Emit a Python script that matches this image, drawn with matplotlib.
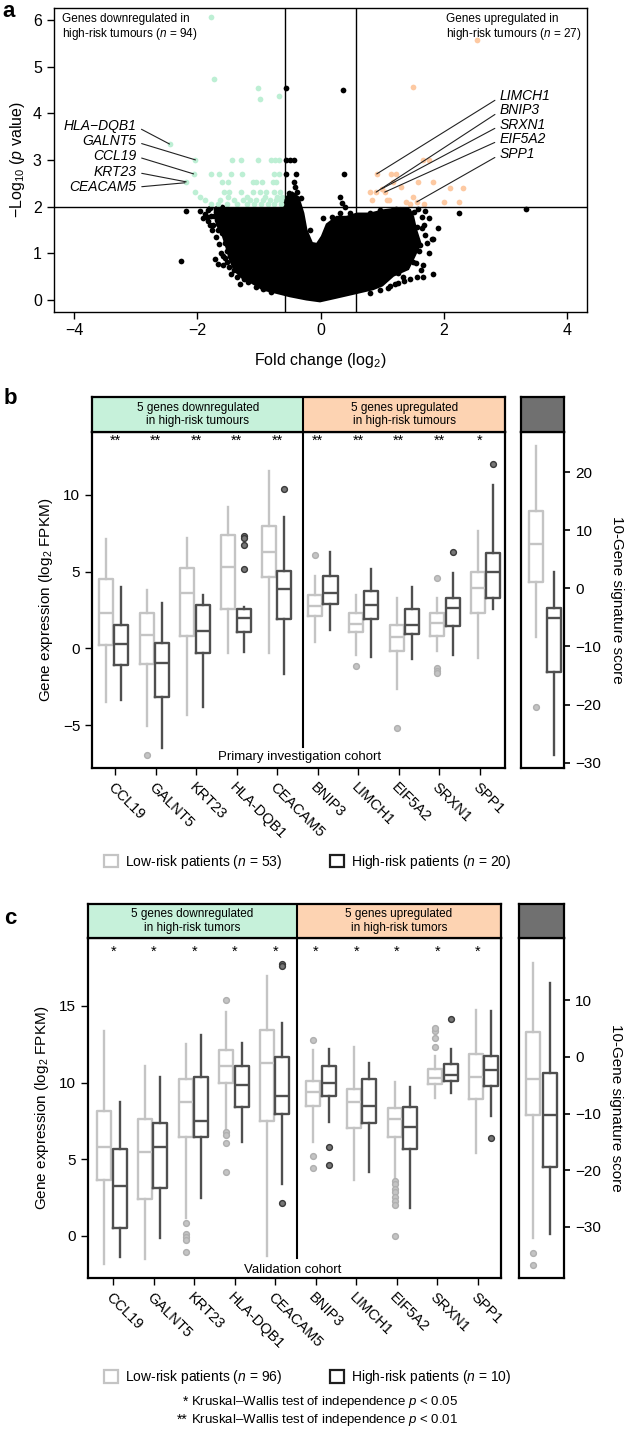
import numpy as np
import matplotlib
matplotlib.use('Agg')
import matplotlib.pyplot as plt
from matplotlib.patches import Patch

plt.rcParams['font.family'] = ['Liberation Sans', 'DejaVu Sans']
plt.rcParams['mathtext.fontset'] = 'custom'
plt.rcParams['mathtext.rm'] = 'Liberation Sans'
plt.rcParams['mathtext.it'] = 'Liberation Sans:italic'
plt.rcParams['axes.linewidth'] = 1.3

# ---------------- panel a: volcano ----------------
green_x = [-1.78, -1.73, -1.01, -0.98, -0.67, -2.45,
           -2.03, -1.44, -1.29, -1.01, -0.80, -0.74, -0.68,
           -2.06, -1.77, -1.65, -1.45, -1.27, -0.75, -0.68,
           -2.18, -1.60, -1.50, -1.10, -1.04, -0.95, -0.77, -0.72,
           -2.04, -1.57, -1.49, -1.29, -1.10, -0.98, -0.88, -0.75, -0.66,
           -1.95, -1.50, -1.20, -0.90, -0.70, -0.62,
           -1.87, -1.63, -1.41, -1.26, -1.15, -1.04, -0.93, -0.82, -0.72, -0.64,
           -1.78, -1.67, -1.51, -1.35, -1.19, -1.08, -0.97, -0.86, -0.75, -0.65]
green_y = [6.06, 4.73, 4.54, 4.31, 4.36, 3.34,
           3.0, 3.0, 3.0, 3.0, 3.0, 3.0, 3.0,
           2.7, 2.7, 2.7, 2.7, 2.7, 2.7, 2.7,
           2.52, 2.52, 2.52, 2.52, 2.52, 2.52, 2.52, 2.52,
           2.31, 2.31, 2.31, 2.31, 2.31, 2.31, 2.31, 2.31, 2.31,
           2.21, 2.21, 2.21, 2.21, 2.21, 2.21,
           2.14, 2.14, 2.14, 2.14, 2.14, 2.14, 2.14, 2.14, 2.14, 2.14,
           2.05, 2.05, 2.05, 2.05, 2.05, 2.05, 2.05, 2.05, 2.05, 2.05]

orange_x = [2.53, 1.50, 1.66, 1.75, 0.91, 1.14, 1.23, 1.17, 1.58, 1.82, 1.31, 2.10, 2.31,
            0.80, 0.90, 1.04, 1.50, 0.83, 1.07, 1.11, 1.39, 1.56, 2.00, 2.25, 0.99, 1.45, 1.68]
orange_y = [5.56, 4.56, 3.0, 3.0, 2.7, 2.7, 2.7, 2.52, 2.52, 2.52, 2.42, 2.39, 2.39,
            2.31, 2.31, 2.31, 2.21, 2.14, 2.14, 2.14, 2.10, 2.10, 2.10, 2.10, 2.38, 2.05, 2.05]

# outline of the dense core of non-significant genes
cloud_x = [-1.72, -1.68, -1.60, -1.53, -1.47, -1.40, -1.28, -1.12, -0.93, -0.71, -0.50, -0.23,
           -0.01, 0.26, 0.59, 0.85, 1.00, 1.18, 1.42, 1.52, 1.62, 1.55, 1.50, 1.45, 1.30, 1.02,
           0.80, 0.59, 0.42, 0.26, 0.10, 0.02, -0.06, -0.14, -0.23, -0.28, -0.36, -0.46, -0.56,
           -0.63]
cloud_y = [1.95, 1.60, 1.43, 1.14, 0.86, 0.64, 0.48, 0.37, 0.22, 0.15, 0.08, 0.01,
           -0.03, 0.05, 0.15, 0.23, 0.31, 0.52, 0.66, 0.93, 1.21, 1.50, 1.79, 1.93, 1.97, 1.92,
           1.85, 1.85, 1.78, 1.78, 1.62, 1.36, 1.20, 1.22, 1.50, 1.86, 2.20, 2.30, 2.20,
           1.97]

black_x = [-0.56, 0.37, -0.56, -0.49, -0.43, -0.56, -0.40, 0.38, -0.43, 0.31, 0.40, 0.35,
           3.33, 2.24, -2.19, -2.27, 1.83, 1.83,
           -1.90, -1.85, -1.77, -1.73, -1.68, -1.63, -1.58, -1.51, -1.80, -1.74, -1.66, -1.60,
           -1.55, -1.51, -1.47, -1.58, -1.59, -1.48, -1.41, -1.25, -1.17, -1.71, -1.52, -0.93,
           -1.82, -1.68, -1.60,
           -1.95, -1.88, -1.83, -1.76, -1.70, -1.65, -1.62, -1.55, -1.66, -1.45, -1.35, -1.30,
           -1.05, -0.80, -1.79, -1.70,
           0.04, 0.18, 0.31, 0.48, 0.69, 0.80, 0.96, 1.18, 1.23, 1.40, 1.64, 1.45, 1.56, 1.64,
           1.72, 1.61, 1.42, 1.42, 1.50, 1.66, 1.56, 1.34, 1.26, 1.12, 0.96, 1.66, 1.26,
           1.70, 1.75, 1.68, 1.70, 1.80, 1.60, 1.55, 1.62, 1.45, 1.35, 1.20, 1.10, 0.80, 1.75,
           1.90, 1.58, 1.52,
           0.04, 0.15, 0.23, 0.37, 0.42, -0.06, -0.17, -0.33, -0.44, -0.31, -0.51, -0.39, -0.41]
black_y = [4.54, 4.49, 3.0, 3.0, 3.0, 2.7, 2.7, 2.7, 2.52, 2.21, 2.0, 2.07,
           1.95, 1.86, 1.91, 0.84, 1.31, 0.56,
           1.75, 1.77, 1.80, 1.80, 1.71, 1.73, 1.75, 1.77, 1.61, 1.61, 1.50, 1.43,
           1.21, 1.04, 0.94, 0.94, 0.75, 0.70, 0.64, 0.44, 0.39, 0.88, 0.82, 0.23,
           1.93, 1.96, 1.99,
           1.90, 1.85, 1.70, 1.50, 1.35, 1.20, 1.00, 0.90, 0.78, 0.55, 0.50, 0.35,
           0.28, 0.18, 1.96, 1.88,
           1.75, 1.77, 1.86, 1.86, 1.71, 1.87, 1.93, 1.93, 1.94, 1.93, 1.77, 1.73, 1.57, 1.54,
           1.21, 1.18, 1.07, 0.93, 0.82, 0.75, 0.50, 0.50, 0.36, 0.29, 0.21, 0.50, 0.57,
           1.90, 1.75, 1.60, 1.40, 1.30, 1.05, 0.80, 0.65, 0.45, 0.40, 0.35, 0.25, 0.15, 1.00,
           1.55, 1.95, 1.88,
           1.14, 1.36, 1.50, 1.57, 1.29, 1.07, 1.50, 1.71, 2.25, 2.18, 2.30, 2.32, 2.43]

left_labels = ['HLA\u2212DQB1', 'GALNT5', 'CCL19', 'KRT23', 'CEACAM5']
left_label_y = [3.73, 3.40, 3.09, 2.75, 2.43]
left_pts = [(-2.45, 3.34), (-2.03, 3.0), (-2.06, 2.7), (-2.18, 2.53), (-2.20, 2.51)]
right_labels = ['LIMCH1', 'BNIP3', 'SRXN1', 'EIF5A2', 'SPP1']
right_label_y = [4.36, 4.06, 3.75, 3.44, 3.13]
right_pts = [(0.91, 2.70), (0.90, 2.31), (0.99, 2.38), (1.04, 2.31), (1.56, 2.10)]

# ---------------- panels b and c: box statistics (lo, q1, median, q3, hi) ----------------
genes = ['CCL19', 'GALNT5', 'KRT23', 'HLA-DQB1', 'CEACAM5',
         'BNIP3', 'LIMCH1', 'EIF5A2', 'SRXN1', 'SPP1']

b_low = [[-3.48, 0.22, 2.32, 4.50, 7.13],
         [-5.05, -1.02, 0.89, 2.32, 3.80],
         [-4.35, 0.80, 3.63, 5.22, 7.22],
         [-0.33, 2.58, 5.28, 7.39, 9.20],
         [-0.33, 4.67, 6.26, 7.98, 11.57],
         [0.43, 2.11, 2.76, 3.48, 4.74],
         [-0.46, 1.04, 1.56, 2.28, 3.48],
         [-2.65, -0.18, 0.72, 1.52, 3.30],
         [-0.18, 0.80, 1.67, 2.28, 3.26],
         [-0.65, 2.32, 3.93, 5.00, 7.67]]
b_low_out = [[], [-6.94], [], [], [], [6.09], [-1.15], [-5.18], [4.61, -1.30, -1.45, -1.63], []]
b_high = [[-3.37, -1.07, 0.28, 1.52, 3.98],
          [-6.48, -3.15, -0.98, 0.33, 2.98],
          [-3.81, -0.28, 1.13, 2.85, 3.48],
          [-0.26, 1.04, 1.98, 2.58, 2.66],
          [-1.68, 1.91, 3.85, 5.06, 8.55],
          [1.17, 2.87, 3.61, 4.74, 6.28],
          [-0.59, 1.93, 2.79, 3.76, 5.17],
          [-0.72, 0.93, 1.50, 2.58, 4.02],
          [-0.46, 1.43, 2.65, 3.30, 4.89],
          [2.56, 3.30, 4.96, 6.24, 10.63]]
b_high_out = [[], [], [], [7.35, 7.20, 6.70, 5.15], [10.41], [], [], [], [6.28], [12.0]]
b_stars = ['**'] * 9 + ['*']
b_score_low = [-8.43, 1.03, 7.62, 13.36, 24.4]
b_score_low_out = [-20.4]
b_score_high = [-28.7, -14.46, -5.16, -3.44, 2.75]

c_low = [[-1.83, 3.65, 5.83, 8.17, 13.37],
         [-1.49, 2.43, 5.50, 7.61, 11.09],
         [1.15, 6.44, 8.70, 10.24, 12.50],
         [7.00, 9.96, 11.09, 12.09, 14.59],
         [-1.28, 7.52, 11.26, 13.44, 16.96],
         [6.11, 8.48, 9.41, 10.09, 12.13],
         [3.65, 7.02, 8.76, 9.61, 12.33],
         [3.76, 6.44, 7.61, 8.37, 10.02],
         [8.98, 9.89, 10.28, 10.87, 11.76],
         [5.39, 8.92, 10.35, 11.85, 14.74]]
c_low_out = [[], [], [0.85, 0.13, -0.04, -0.24, -1.04], [15.35, 6.76, 6.59, 6.09, 4.17], [],
             [12.76, 5.22, 4.44], [], [3.61, 3.37, 3.05, 2.85, 2.52, 2.28, 2.0, 0.02],
             [12.31, 12.87, 13.33, 13.55], []]
c_high = [[-1.35, 0.54, 3.26, 5.65, 8.76],
          [-0.15, 3.11, 5.83, 7.37, 10.39],
          [2.46, 6.44, 7.50, 10.39, 13.09],
          [6.15, 8.43, 9.83, 11.09, 12.57],
          [3.37, 7.96, 9.13, 11.68, 13.87],
          [7.46, 9.13, 9.96, 11.09, 12.18],
          [4.17, 7.39, 8.48, 10.24, 11.29],
          [1.80, 5.70, 7.09, 8.43, 9.74],
          [9.35, 10.07, 10.48, 11.20, 12.18],
          [7.85, 9.78, 10.83, 11.76, 14.63]]
c_high_out = [[], [], [], [], [17.74, 17.61, 2.17], [5.81, 4.63], [], [], [14.13], [6.37]]
c_stars = ['*'] * 10
c_score_low = [-31.86, -10.34, -3.88, 4.36, 16.47]
c_score_low_out = [-34.5, -36.7]
c_score_high = [-31.27, -19.5, -10.34, -2.93, 13.05]

LOW = '#c4c4c4'
HIGH = '#4f4f4f'
GREEN = '#c6f1da'
ORANGE = '#fdd3b2'

fig = plt.figure(figsize=(6.32, 14.36), dpi=100)

# ---------------- draw a ----------------
ax = fig.add_axes([0.0848, 0.783, 0.844, 0.2113])
ax.fill(cloud_x, cloud_y, color='black', lw=1.5, zorder=2)
ax.scatter(black_x, black_y, s=17, color='black', lw=0, zorder=3)
ax.scatter(green_x, green_y, s=17, color='#bdefd4', lw=0, zorder=3)
ax.scatter(orange_x, orange_y, s=17, color='#fdc9a2', lw=0, zorder=3)
ax.axvline(-0.58, color='black', lw=1.0, zorder=4)
ax.axvline(0.58, color='black', lw=1.0, zorder=4)
ax.axhline(2.0, color='black', lw=1.0, zorder=4)
ax.set_xlim(-4.33, 4.32)
ax.set_ylim(-0.25, 6.25)
ax.set_xticks([-4, -2, 0, 2, 4])
ax.set_yticks(range(7))
ax.tick_params(direction='out', length=5, width=1, labelsize=11.5)
ax.set_xlabel('Fold change (log$_2$)', fontsize=11.5, labelpad=9)
ax.set_ylabel('\u2212Log$_{10}$ ($\\it{p}$ value)', fontsize=11.5, labelpad=4)
for s in ax.spines.values():
    s.set_linewidth(1.0)
ax.text(0.015, 0.985, 'Genes downregulated in\nhigh-risk tumours ($\\it{n}$ = 94)',
        transform=ax.transAxes, ha='left', va='top', fontsize=8.5, linespacing=1.15)
ax.text(0.735, 0.985, 'Genes upregulated in\nhigh-risk tumours ($\\it{n}$ = 27)',
        transform=ax.transAxes, ha='left', va='top', fontsize=8.5, linespacing=1.15)
for lab, ly, pt in zip(left_labels, left_label_y, left_pts):
    ax.annotate(lab, xy=pt, xytext=(-2.99, ly), ha='right', va='center', fontsize=10,
                style='italic', zorder=5,
                arrowprops=dict(arrowstyle='-', lw=0.8, color='#222222',
                                relpos=(1.0, 0.45), shrinkA=2, shrinkB=0))
for lab, ly, pt in zip(right_labels, right_label_y, right_pts):
    ax.annotate(lab, xy=pt, xytext=(2.91, ly), ha='left', va='center', fontsize=10,
                style='italic', zorder=5,
                arrowprops=dict(arrowstyle='-', lw=0.8, color='#222222',
                                relpos=(0.0, 0.45), shrinkA=2, shrinkB=0))


def draw_boxes(axx, pos, stats, outs, color, face, edge, width):
    bx = [dict(whislo=s[0], q1=s[1], med=s[2], q3=s[3], whishi=s[4], fliers=o)
          for s, o in zip(stats, outs)]
    axx.bxp(bx, positions=pos, widths=width, showcaps=False, manage_ticks=False,
            boxprops=dict(color=color, lw=1.7),
            medianprops=dict(color=color, lw=1.7),
            whiskerprops=dict(color=color, lw=1.7),
            flierprops=dict(marker='o', markersize=4.2, markerfacecolor=face,
                            markeredgecolor=edge, markeredgewidth=1.0))


def box_panel(rect, rect_r, xl, sep, ylim, ylim_r, yt, yt_r, low, low_out, high, high_out,
              stars, star_y, score_low, score_low_out, score_high, xlim_r, wr,
              cohort, cohort_y, sep_bottom, tag):
    left, bottom, width, height, head_h = rect
    idx = np.arange(len(genes))
    lowpos = idx + np.where(idx >= 5, 0.135, 0.0)
    highpos = lowpos + 0.378
    ticks = 0.22 + 0.996 * idx

    axm = fig.add_axes([left, bottom, width, height])
    draw_boxes(axm, lowpos, low, low_out, LOW, LOW, '#b0b0b0', 0.345)
    draw_boxes(axm, highpos, high, high_out, HIGH, '#777777', '#3a3a3a', 0.345)
    axm.plot([sep, sep], [sep_bottom, ylim[1]], color='black', lw=1.5)
    for t, st in zip(ticks, stars):
        axm.text(t, star_y, st, ha='center', va='center', fontsize=10.5)
    axm.text(sep - 0.1, cohort_y, cohort, ha='center', va='center', fontsize=9.5)
    axm.set_xlim(xl[0], xl[1])
    axm.set_ylim(*ylim)
    axm.set_yticks(yt)
    axm.set_xticks(ticks)
    axm.set_xticklabels(genes, rotation=-45, ha='left', va='top', rotation_mode='anchor',
                        fontsize=10.5)
    axm.tick_params(direction='out', length=5, width=1, labelsize=11)
    axm.tick_params(axis='x', labelsize=10.5, pad=4)
    axm.set_ylabel('Gene expression (log$_2$ FPKM)', fontsize=11, labelpad=6)
    for s in axm.spines.values():
        s.set_linewidth(1.6)

    axh = fig.add_axes([left, bottom + height, width, head_h])
    axh.set_xlim(xl[0], xl[1])
    axh.set_ylim(0, 1)
    axh.axvspan(xl[0], sep, color=GREEN, lw=0)
    axh.axvspan(sep, xl[1], color=ORANGE, lw=0)
    axh.axvline(sep, color='black', lw=1.5)
    axh.text((xl[0] + sep) / 2, 0.5, '5 genes downregulated\nin high-risk ' + tag,
             ha='center', va='center', fontsize=8.5, linespacing=1.2)
    axh.text((sep + xl[1]) / 2, 0.5, '5 genes upregulated\nin high-risk ' + tag,
             ha='center', va='center', fontsize=8.5, linespacing=1.2)
    axh.set_xticks([])
    axh.set_yticks([])
    for s in axh.spines.values():
        s.set_linewidth(1.6)

    rl, rw = rect_r
    axr = fig.add_axes([rl, bottom, rw, height])
    draw_boxes(axr, [0], [score_low], [score_low_out], LOW, LOW, '#b0b0b0', wr)
    draw_boxes(axr, [1], [score_high], [[]], HIGH, '#777777', '#3a3a3a', wr)
    axr.set_xlim(*xlim_r)
    axr.set_ylim(*ylim_r)
    axr.set_xticks([])
    axr.set_yticks(yt_r)
    axr.yaxis.tick_right()
    axr.yaxis.set_label_position('right')
    axr.tick_params(direction='out', length=4, width=1.2, labelsize=11, pad=4)
    axr.set_ylabel('10-Gene signature score', rotation=-90, fontsize=11, labelpad=16)
    for s in axr.spines.values():
        s.set_linewidth(1.6)

    axhr = fig.add_axes([rl, bottom + height, rw, head_h])
    axhr.set_facecolor('#707070')
    axhr.set_xticks([])
    axhr.set_yticks([])
    for s in axhr.spines.values():
        s.set_linewidth(1.6)


box_panel((0.1456, 0.4652, 0.6535, 0.234, 0.0244), (0.8244, 0.0685), (-0.344, 9.80), 4.85,
          (-7.8, 14.1), (-30.9, 26.9), [-5, 0, 5, 10], [-30, -20, -10, 0, 10, 20],
          b_low, b_low_out, b_high, b_high_out, b_stars, 13.5,
          b_score_low, b_score_low_out, b_score_high, (-0.83, 1.57), 0.78,
          'Primary investigation cohort', -7.07, -6.42, 'tumours')

box_panel((0.1392, 0.110, 0.6535, 0.2366, 0.0237), (0.8217, 0.0707), (-0.40, 9.75), 4.73,
          (-2.74, 19.4), (-39.0, 20.9), [0, 5, 10, 15], [-30, -20, -10, 0, 10],
          c_low, c_low_out, c_high, c_high_out, c_stars, 18.55,
          c_score_low, c_score_low_out, c_score_high, (-0.84, 1.84), 0.84,
          'Validation cohort', -2.2, -1.46, 'tumors')

# legends
for n_low, n_high, ly in [(53, 20, 0.400), (96, 10, 0.041)]:
    handles = [Patch(facecolor='white', edgecolor=LOW, lw=1.6,
                     label='Low-risk patients ($\\it{n}$ = %d)' % n_low),
               Patch(facecolor='white', edgecolor='#1e1e1e', lw=1.6,
                     label='High-risk patients ($\\it{n}$ = %d)' % n_high)]
    fig.legend(handles=handles, loc='center', bbox_to_anchor=(0.487, ly), ncol=2,
               frameon=False, fontsize=10, handlelength=1.0, handleheight=1.0,
               columnspacing=3.4, handletextpad=0.5)

fig.text(0.297, 1 - 1402 / 1436, '*', ha='right', va='center', fontsize=10)
fig.text(0.302, 1 - 1402 / 1436, 'Kruskal\u2013Wallis test of independence $\\it{p}$ < 0.05',
         ha='left', va='center', fontsize=9.5)
fig.text(0.297, 1 - 1420 / 1436, '**', ha='right', va='center', fontsize=10)
fig.text(0.302, 1 - 1420 / 1436, 'Kruskal\u2013Wallis test of independence $\\it{p}$ < 0.01',
         ha='left', va='center', fontsize=9.5)

fig.text(0.004, 0.999, 'a', ha='left', va='top', fontsize=16, fontweight='bold')
fig.text(0.006, 0.730, 'b', ha='left', va='top', fontsize=16, fontweight='bold')
fig.text(0.006, 0.368, 'c', ha='left', va='top', fontsize=16, fontweight='bold')

fig.savefig('out.png', dpi=100)
